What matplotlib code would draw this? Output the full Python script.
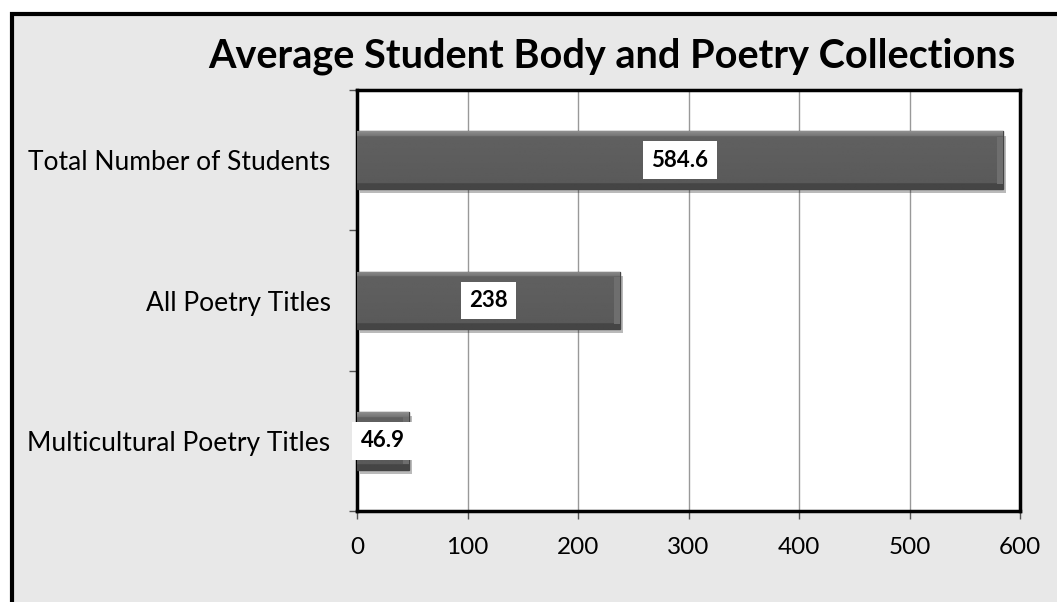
import numpy as np
import matplotlib.pyplot as plt
from matplotlib.patches import Rectangle
import matplotlib.patheffects as pe

# Average values per school
categories = ['Total Number of Students', 'All Poetry Titles', 'Multicultural Poetry Titles']
values = [584.6, 238, 46.9]
value_labels = ['584.6', '238', '46.9']
x_ticks = [0, 100, 200, 300, 400, 500, 600]

plt.rcParams['font.family'] = ['Lato', 'DejaVu Sans']

fig = plt.figure(figsize=(10.57, 6.02), dpi=100)
fig.patch.set_facecolor('white')

# grey chart area with heavy black frame (runs off right/bottom edge)
frame = Rectangle((12 / 1057, -0.2), 1.2, 1 - 14 / 602 + 0.2, transform=fig.transFigure,
                  facecolor='#e8e8e8', edgecolor='black', linewidth=3, zorder=-10)
fig.patches.append(frame)

ax = fig.add_axes([357 / 1057, 1 - 511 / 602, (1020 - 357) / 1057, (511 - 90) / 602])
ax.set_facecolor('white')

ypos = np.arange(len(categories))[::-1]
h = 0.41

bars = ax.barh(ypos, values, height=h, color='#5a5a5a', edgecolor='#444444', linewidth=1,
               zorder=3)
for b in bars:
    b.set_path_effects([pe.SimplePatchShadow(offset=(2, -3), alpha=0.3), pe.Normal()])

# vertical shading for the bevelled look: light rim on top, darker rim at the bottom
t = np.linspace(0, 1, 100)
shade = np.where(t < 0.09, 0.56 - t * 1.3, 0.38 - 0.03 * t)
shade = np.where(t > 0.90, 0.27, shade)
grad = np.tile(shade[:, None], (1, 2))
for b in bars:
    x0, y0, w, hh = b.get_x(), b.get_y(), b.get_width(), b.get_height()
    im = ax.imshow(grad, cmap='gray', vmin=0, vmax=1, aspect='auto', origin='upper',
                   extent=(x0, x0 + w, y0, y0 + hh), zorder=3.5, interpolation='bilinear')
    im.set_clip_path(b)
    # lighter bevel at the right end
    ax.barh(y0 + hh / 2, 5, left=x0 + w - 5, height=hh * 0.82, color='#6e6e6e',
            linewidth=0, zorder=3.6)

for y, v, lab in zip(ypos, values, value_labels):
    ax.text(v / 2, y, lab, ha='center', va='center', fontsize=16, fontweight='bold',
            color='black', zorder=6,
            bbox=dict(boxstyle='square,pad=0.38', facecolor='white', edgecolor='none'))

ax.set_xlim(0, 600)
ax.set_ylim(-0.5, 2.5)
ax.set_xticks(x_ticks)
ax.tick_params(axis='x', labelsize=17.5, length=6, pad=13, width=1, color='#555555')
ax.xaxis.grid(True, color='#999999', linewidth=1, zorder=0)

ax.set_yticks([-0.5, 0.5, 1.5, 2.5])
ax.set_yticklabels([])
ax.tick_params(axis='y', which='major', length=6, width=1, color='#555555')
ax.set_yticks(ypos, minor=True)
ax.set_yticklabels(categories, minor=True)
ax.tick_params(axis='y', which='minor', length=0, labelsize=19, pad=19)

for s in ax.spines.values():
    s.set_color('black')
    s.set_linewidth(2.5)

fig.text(612 / 1057, 1 - 56 / 602, 'Average Student Body and Poetry Collections',
         ha='center', va='center', fontsize=28.5, fontweight='bold')

fig.savefig('out.png', dpi=100)
